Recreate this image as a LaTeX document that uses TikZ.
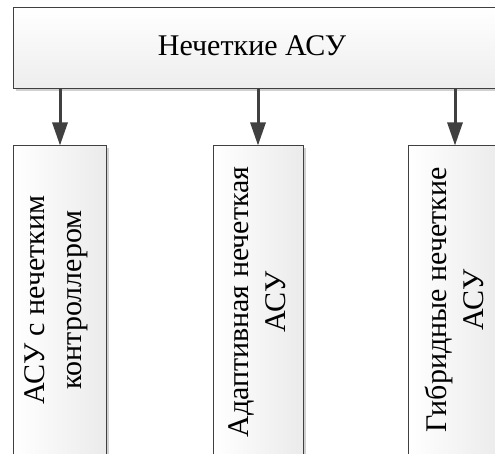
\documentclass[tikz,border=0pt]{standalone}
\usepackage{fontspec}
\setmainfont{Liberation Serif}
\usetikzlibrary{arrows.meta,shadows}
\definecolor{edge}{HTML}{404040}
\tikzset{
  x=1pt, y=-1pt,
  boxshadow/.style={drop shadow={shadow xshift=2.5pt, shadow yshift=-2.5pt, fill=black, opacity=0.18}},
  hbox/.style={draw=edge, line width=1.3pt, top color=white, bottom color=gray!14, boxshadow,
    anchor=north west, inner sep=0pt},
  vbox/.style={draw=edge, line width=1.3pt, left color=white, right color=gray!16, boxshadow,
    anchor=north west, inner sep=0pt, minimum width=93pt, minimum height=340pt},
  vlabel/.style={rotate=90, align=center, font=\fontsize{30}{37}\selectfont, inner sep=0pt},
  link/.style={draw=edge, line width=3pt, -{Triangle[width=15pt,length=23pt]}, shorten >=-0.5pt}
}
\begin{document}
\begin{tikzpicture}
\clip (0,0) rectangle (495,454);
\fill[white] (0,0) rectangle (495,454);

% top box
\node[hbox, minimum width=500pt, minimum height=81pt] (top) at (13,7) {};
\node[font=\fontsize{30}{37}\selectfont, inner sep=0pt] (toplabel) at (252,46) {Нечеткие АСУ};

% three lower boxes
\node[vbox] (b1) at (13,145) {};
\node[vbox, minimum width=90pt] (b2) at (213,145) {};
\node[vbox] (b3) at (408,145) {};

\node[vlabel] (t1) at (56,300) {АСУ с нечетким\\контроллером};
\node[vlabel] (t2) at (257,302) {Адаптивная нечеткая\\АСУ};
\node[vlabel] (t3) at (454,300) {Гибридные нечеткие\\АСУ};

% connectors
\coordinate (s1) at (60,88);
\coordinate (e1) at (60,145);
\coordinate (s2) at (258,88);
\coordinate (e2) at (258,145);
\coordinate (s3) at (455,88);
\coordinate (e3) at (455,145);
\draw[link] (s1) -- (e1);
\draw[link] (s2) -- (e2);
\draw[link] (s3) -- (e3);
\end{tikzpicture}
\end{document}
